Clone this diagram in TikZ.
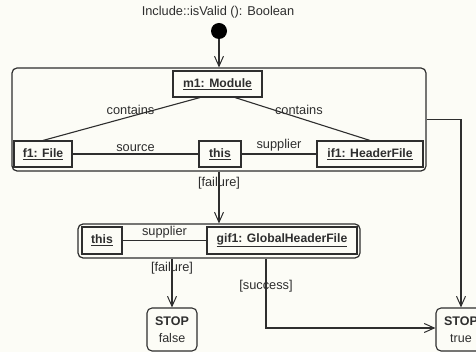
\documentclass[tikz,border=0pt]{standalone}
\usepackage{fontspec}
\setmainfont{Liberation Sans}
\usetikzlibrary{arrows.meta}
\definecolor{paper}{HTML}{FCFCF6}
\definecolor{ink}{HTML}{2E2E2E}
\begin{document}
\begin{tikzpicture}[x=1pt,y=-1pt,
  every node/.style={text=ink},
  line/.style={draw=ink, line width=1.1pt},
  flow/.style={line, -{Straight Barb[length=10pt,width=9pt,line width=1pt]}},
  objbox/.style={draw=ink, line width=1.1pt, rectangle, inner sep=0pt,
    minimum height=26pt, font=\fontsize{12.2}{14}\selectfont\bfseries},
  frame/.style={draw=ink, line width=1.2pt, rectangle, rounded corners=5pt, inner sep=0pt},
  stopbox/.style={draw=ink, line width=1.1pt, rectangle, rounded corners=5pt,
    minimum width=50pt, minimum height=43pt, inner sep=0pt, align=center,
    font=\fontsize{12.5}{17}\selectfont},
  lbl/.style={font=\fontsize{12.8}{14}\selectfont, inner sep=1pt}
]
\fill[paper] (0,0) rectangle (476,352);
\useasboundingbox (0,0) rectangle (476,352);

% title and initial state
\node[lbl] (title) at (218,12) {Include::isValid (): Boolean};
\node[circle, fill=black, minimum size=16pt, inner sep=0pt] (init) at (219,31) {};

% first collaboration frame
\node[frame, minimum width=414pt, minimum height=103pt] (big) at (219,119.5) {};
\node[objbox, minimum width=89pt] (m1) at (217.5,84) {\underline{m1: Module}};
\node[objbox, minimum width=58pt] (f1) at (43,154) {\underline{f1: File}};
\node[objbox, minimum width=42pt] (this1) at (220,154) {\underline{this}};
\node[objbox, minimum width=106pt] (if1) at (370,154) {\underline{if1: HeaderFile}};

% second collaboration frame
\node[frame, minimum width=282pt, minimum height=34pt] (box2) at (219,241) {};
\node[objbox, minimum width=40pt, minimum height=27pt] (this2) at (102,240.5) {\underline{this}};
\node[objbox, minimum width=150pt, minimum height=27pt] (gif1) at (282,240.5) {\underline{gif1: GlobalHeaderFile}};

% final states
\node[stopbox] (stopF) at (172,329.5) {\textbf{STOP}\\false};
\node[stopbox] (stopT) at (461,329.5) {\textbf{STOP}\\true};

% links inside the frames
\draw[line] ([xshift=-17.5pt]m1.south) -- (f1.north)
  node[lbl, pos=0.3, anchor=east, xshift=3pt] {contains};
\draw[line] ([xshift=17.5pt]m1.south) -- (if1.north)
  node[lbl, pos=0.3, anchor=west, xshift=-2pt] {contains};
\draw[line] (f1.east) -- (this1.west) node[lbl, midway, above, yshift=1pt] {source};
\draw[line] (this1.east) -- (if1.west) node[lbl, midway, above, yshift=1pt] {supplier};
\draw[line] (this2.east) -- (gif1.west) node[lbl, midway, above, yshift=1pt] {supplier};

% control flow
\draw[flow] (init.south) -- (big.north);
\draw[flow] (big.south) -- (box2.north) node[lbl, pos=0.23] {[failure]};
\draw[flow] (big.east) -| (stopT.north);
\draw[flow] (box2.south -| stopF.north) -- (stopF.north) node[lbl, pos=0.2] {[failure]};
\draw[flow] ([xshift=47pt]box2.south) |- ([yshift=1.5pt]stopT.west) node[lbl, pos=0.2] {[success]};
\end{tikzpicture}
\end{document}
